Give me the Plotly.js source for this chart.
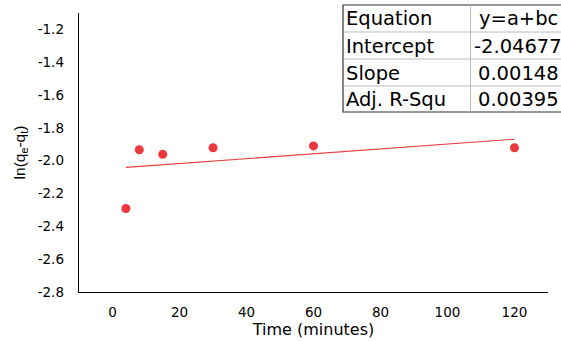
<!DOCTYPE html>
<html>
<head>
<meta charset="utf-8">
<script src="https://cdn.plot.ly/plotly-3.0.1.min.js"></script>
<style>
  html, body { margin: 0; padding: 0; background: #ffffff; }
  #chart { width: 561px; height: 341px; }
</style>
</head>
<body>
<div id="chart"></div>
<script>
// ---- data ----
var timeMin = [4, 8, 15, 30, 60, 120];
var lnQ = [-2.291, -1.933, -1.961, -1.921, -1.910, -1.921];

// linear fit endpoints (y = a + b*x, a = -2.04677, b = 0.00148)
var fitX = [4, 120];
var fitY = [-2.0409, -1.8692];

var xTickVals = [0, 20, 40, 60, 80, 100, 120];
var yTickVals = [-1.2, -1.4, -1.6, -1.8, -2.0, -2.2, -2.4, -2.6, -2.8];
var yTickText = ['-1.2', '-1.4', '-1.6', '-1.8', '-2.0', '-2.2', '-2.4', '-2.6', '-2.8'];

var tableLabels = ['Equation', 'Intercept', 'Slope', 'Adj. R-Squ'];
var tableValues = ['y=a+bc', '-2.04677', '0.00148', '0.00395'];

// ---- layout helpers (pixel -> paper) ----
var L = 79, R = 548, T = 13, B = 292, W = 561, H = 341;
function px(x) { return (x - L) / (R - L); }
function py(y) { return (B - y) / (B - T); }

var tableFont = { family: 'DejaVu Sans, sans-serif', size: 19.5, color: '#000' };
var rowCenters = [19, 46, 73, 99];
var annotations = [];
tableLabels.forEach(function (t, i) {
  annotations.push({ text: t, xref: 'paper', yref: 'paper', x: px(344), y: py(rowCenters[i]),
    xanchor: 'left', yanchor: 'middle', showarrow: false, font: tableFont });
});
tableValues.forEach(function (t, i) {
  annotations.push({ text: t, xref: 'paper', yref: 'paper', x: px(518), y: py(rowCenters[i]),
    xanchor: 'center', yanchor: 'middle', showarrow: false, font: tableFont });
});

var shapes = [
  { type: 'rect', xref: 'paper', yref: 'paper', x0: px(343), x1: px(575), y0: py(112), y1: py(5),
    line: { color: '#333', width: 1.2 }, fillcolor: '#ffffff', layer: 'above' }
];
[32, 59, 86].forEach(function (y) {
  shapes.push({ type: 'line', xref: 'paper', yref: 'paper', x0: px(343.5), x1: px(575), y0: py(y), y1: py(y),
    line: { color: '#bbbbbb', width: 1 }, layer: 'above' });
});
shapes.push({ type: 'line', xref: 'paper', yref: 'paper', x0: px(470.5), x1: px(470.5), y0: py(111.5), y1: py(5.5),
  line: { color: '#bbbbbb', width: 1 }, layer: 'above' });

var traces = [
  { x: fitX, y: fitY, type: 'scatter', mode: 'lines',
    line: { color: '#ee3b3b', width: 1.1 }, hoverinfo: 'skip', showlegend: false },
  { x: timeMin, y: lnQ, type: 'scatter', mode: 'markers',
    marker: { color: '#ec383d', size: 9 }, showlegend: false }
];

var layout = {
  width: W, height: H,
  margin: { l: L, r: W - R, t: T, b: H - B, pad: 0 },
  paper_bgcolor: '#ffffff', plot_bgcolor: '#ffffff',
  showlegend: false,
  xaxis: {
    range: [-10, 130], tickvals: xTickVals, ticks: '', showgrid: false, zeroline: false,
    showline: true, linecolor: '#000', linewidth: 1.3, ticklabelstandoff: 7,
    tickfont: { family: 'DejaVu Sans, sans-serif', size: 13.5, color: '#000' },
    title: { text: 'Time (minutes)', standoff: 5, font: { family: 'DejaVu Sans, sans-serif', size: 16, color: '#000' } }
  },
  yaxis: {
    range: [-2.8, -1.1], tickvals: yTickVals, ticktext: yTickText, ticks: '', showgrid: false, zeroline: false,
    showline: true, linecolor: '#000', linewidth: 1.3, ticklabelstandoff: 11,
    tickfont: { family: 'DejaVu Sans, sans-serif', size: 13.5, color: '#000' },
    title: { text: 'ln(q<sub>e</sub>-q<sub>t</sub>)', standoff: 8, font: { family: 'Liberation Sans, Arial, sans-serif', size: 15.5, color: '#000' } }
  },
  annotations: annotations,
  shapes: shapes
};

Plotly.newPlot('chart', traces, layout, { staticPlot: true, displayModeBar: false });
</script>
</body>
</html>
